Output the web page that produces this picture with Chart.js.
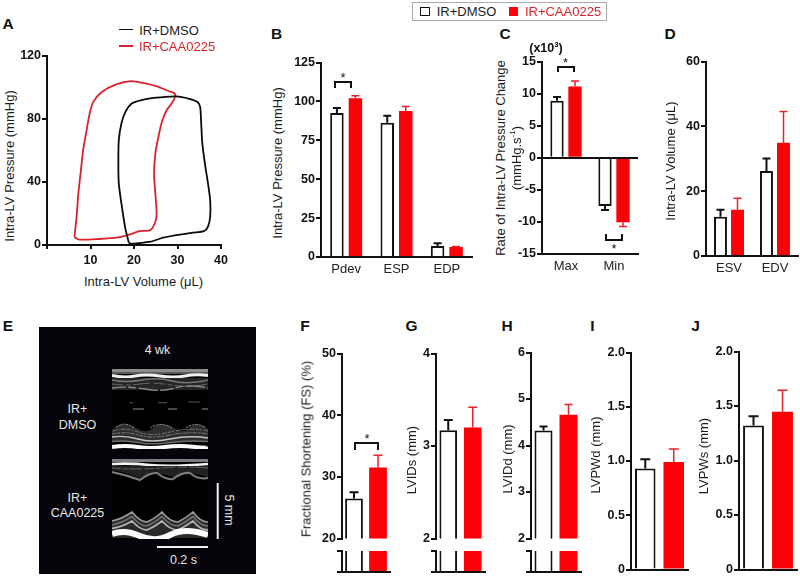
<!DOCTYPE html>
<html>
<head>
<meta charset="utf-8">
<title>Panels A-J</title>
<script src="https://cdn.jsdelivr.net/npm/chart.js@4"></script>
<style>
    html, body { margin: 0; padding: 0; background: #fff; }
    #page { position: relative; width: 800px; height: 577px; overflow: hidden; font-family: "Liberation Sans", Arial, sans-serif; color: #1c1c1c; }
    #page canvas { position: absolute; }
    #page svg { position: absolute; left: 0; top: 0; }
    .txt { position: absolute; white-space: nowrap; transform: translate(-50%, -50%); font-size: 12.5px; line-height: 1; }
    .txt sup { font-size: 0.62em; line-height: 0; }
    .letter { font-size: 15.5px; font-weight: bold; color: #111; }
    .brk { position: absolute; border: 2px solid #111; box-sizing: border-box; }
    .mark { position: absolute; box-sizing: border-box; }
</style>
</head>
<body>
<div id="page">
<svg width="800" height="577" viewBox="0 0 800 577">
    <defs>
        <filter id="soft"><feGaussianBlur stdDeviation="0.6"/></filter>
        <clipPath id="imgTop"><rect x="112" y="369" width="96" height="80"/></clipPath>
        <clipPath id="imgBottom"><rect x="112" y="459" width="96" height="80"/></clipPath>
    </defs>
    <rect x="39" y="327" width="217" height="247" fill="#04040a"/>
    <g clip-path="url(#imgTop)"><g filter="url(#soft)" fill="none">
        <rect x="112" y="369" width="96" height="80" fill="#050505"/>
        <rect x="112" y="369" width="96" height="3" fill="#8c8c8c"/>
        <rect x="112" y="372" width="96" height="2" fill="#5a5a5a"/>
        <path d="M112 375.5 Q124 378 135 376 T160 376 T185 376 T208 375.5" stroke="#efefef" stroke-width="3"/>
        <rect x="112" y="378" width="96" height="12" fill="#262626"/>
        <path d="M112 380 Q126 383 142 380 T172 381 T208 380" stroke="#777" stroke-width="1.4"/>
        <path d="M112 384 Q126 386 140 384 T170 385 T208 384" stroke="#666" stroke-dasharray="11 3 5 2 17 4"/>
        <path d="M112 388 Q128 386 145 389 T175 388 T208 388" stroke="#8a8a8a" stroke-width="1.3" stroke-dasharray="14 2 8 3 19 2"/>
        <path d="M130 402.7h3M158 402.7h9M188 402h12" stroke="#555"/>
        <path d="M133 409h11M168 409h9M202 409h6" stroke="#8c8c8c" stroke-width="1.2"/>
        <path d="M112 430 Q122 420 136 428 Q146 434 152 429 Q160 420 174 428 Q182 434 188 429 Q196 420 208 429 V442 H112 Z" fill="#2e2e2e"/>
        <path d="M116 427 Q126 421 134 428 M150 428 Q160 421 172 428 M186 428 Q196 421 206 428" stroke="#8c8c8c" stroke-dasharray="2 1 3 1"/>
        <path d="M113 431 Q126 427 138 432 T170 432 T208 431" stroke="#777" stroke-dasharray="3 1 2 2 5 1"/>
        <path d="M112 434 Q126 431 138 435 T170 435 T208 434" stroke="#666" stroke-width="1.3" stroke-dasharray="5 1 2 1"/>
        <path d="M112 437 Q125 435 138 439 T170 439 T208 438" stroke="#c4c4c4" stroke-width="1.4"/>
        <path d="M112 441.5 Q125 440 138 442.5 T170 442.5 T208 441.5" stroke="#6c6c6c" stroke-width="1.4"/>
        <path d="M112 447 Q125 445 138 447 T165 447 T195 447 T208 446" stroke="#fafafa" stroke-width="4"/>
    </g></g>
    <g clip-path="url(#imgBottom)"><g filter="url(#soft)" fill="none">
        <rect x="112" y="459" width="96" height="80" fill="#050505"/>
        <rect x="112" y="459" width="96" height="3" fill="#7c7c7c"/>
        <path d="M112 464 Q130 463 150 465 T208 464" stroke="#f2f2f2" stroke-width="2.6"/>
        <path d="M112 466 H208 V477 Q190 470 173 477 Q157 470 140 478 Q125 472 112 470 Z" fill="#242424"/>
        <path d="M112 468 Q135 470 160 468 T208 468" stroke="#606060" stroke-dasharray="9 2 5 1 13 3"/>
        <path d="M112 472 Q126 475 140 480 Q150 472 157 473 Q166 480 173 479 Q182 472 190 473 Q198 480 208 478" stroke="#7d7d7d" stroke-width="2"/>
        <path d="M112 521 Q122 519 132 512 Q140 522 147 522 Q156 518 162 512 Q170 522 178 522 Q186 518 193 512 Q200 522 208 522 V538 H112 Z" fill="#2c2c2c"/>
        <path d="M112 521 Q122 519 132 512 Q140 522 147 522 Q156 518 162 512 Q170 522 178 522 Q186 518 193 512 Q200 522 208 522" stroke="#9a9a9a" stroke-width="1.6"/>
        <path d="M112 525 Q122 523 132 516.5 Q140 526 147 526 Q156 522 162 516.5 Q170 526 178 526 Q186 522 193 516.5 Q200 526 208 526" stroke="#6f6f6f" stroke-width="1.6"/>
        <path d="M112 528.5 Q122 527 132 521 Q140 530 147 530 Q156 526 162 521 Q170 530 178 530 Q186 526 193 521 Q200 530 208 530" stroke="#b0b0b0" stroke-width="1.8"/>
        <path d="M112 534 Q125 529 140 536 T170 535 T208 535" stroke="#fbfbfb" stroke-width="6"/>
    </g></g>
    <rect x="216.7" y="483" width="2" height="56" fill="#f2f2f2"/>
    <rect x="157" y="546" width="51" height="2" fill="#f2f2f2"/>
</svg>
</div>
<script>
// Panel A: pressure-volume loops
const dmsoVolume = [18.8, 18.0, 17.1, 16.5, 16.4, 16.5, 17.1, 18.0, 19.4, 21.5, 24.5, 29.7, 32.7, 34.6, 35.2, 35.4, 35.7, 36.4, 37.0, 37.5, 37.5, 37.0, 36.1, 33.4, 29.7, 26.7, 23.8, 20.8, 19.3, 18.8];
const dmsoPressure = [1.5, 10.5, 26.3, 39, 51.6, 66.3, 76.9, 84.2, 89.5, 91.6, 93.1, 94.1, 92.6, 90.5, 87.4, 79, 64.2, 49.5, 39, 28.4, 17.9, 11.6, 8.8, 7.8, 6.3, 4.6, 2.1, 1.1, 0.8, 1.5];
const caaVolume = [6.3, 6.8, 7.2, 7.8, 8.3, 9.1, 9.8, 10.6, 12.6, 15.9, 19.3, 22.3, 25.3, 27.9, 29.4, 29.1, 27.5, 26.4, 25.6, 24.9, 24.6, 24.9, 25.2, 24.9, 23.8, 21.2, 19.3, 16.3, 11.8, 7.4, 6.5, 6.3];
const caaPressure = [5.3, 17.9, 32.6, 47.4, 60, 72.6, 83.2, 90.5, 96.9, 101.7, 103.8, 102.5, 100.4, 97.5, 95.8, 91.6, 85.3, 77.9, 68.4, 57.9, 45.3, 32.6, 20, 14.7, 9.5, 8.8, 6.9, 4.8, 3.8, 3.4, 4.6, 5.3];

// Panels B-D: grouped bars, error = SEM height
const pressureLabels = ['Pdev', 'ESP', 'EDP'];
const pressureDmso = [92.5, 86.3, 7.1];
const pressureDmsoErr = [3.2, 4.5, 1.7];
const pressureCaa = [102.1, 93.8, 6.4];
const pressureCaaErr = [1.5, 3.0, 0.4];

const rateLabels = ['Max', 'Min'];
const rateDmso = [8.9, -7.5];
const rateDmsoErr = [0.55, 0.63];
const rateCaa = [11.1, -10.05];
const rateCaaErr = [0.88, 0.65];

const volumeLabels = ['ESV', 'EDV'];
const volumeDmso = [12.1, 26.2];
const volumeDmsoErr = [2.2, 3.9];
const volumeCaa = [14.3, 34.9];
const volumeCaaErr = [3.5, 9.7];

// Panels F-J: one DMSO bar and one CAA bar each
const groupLabels = ['IR+DMSO', 'IR+CAA0225'];
const fsValues = [26.5, 31.5];
const fsErrors = [1.0, 2.0];
const lvidsValues = [3.17, 3.2];
const lvidsErrors = [0.11, 0.22];
const lviddValues = [4.32, 4.66];
const lviddErrors = [0.09, 0.22];
const lvpwdValues = [0.93, 0.99];
const lvpwdErrors = [0.087, 0.12];
const lvpwsValues = [1.32, 1.447];
const lvpwsErrors = [0.087, 0.197];

const BLACK = '#111';
const RED = '#fb0006';
const TICK_FONT = { family: '"Liberation Sans", Arial, sans-serif', size: 12.5, weight: 'bold' };
const CAT_FONT = { family: '"Liberation Sans", Arial, sans-serif', size: 13 };
const page = document.getElementById('page');

// Error bars are not built into Chart.js, so draw them from each dataset's err array
const errorBars = {
    id: 'errorBars',
    afterDatasetsDraw(chart, args, opts) {
        const { ctx, scales: { y } } = chart;
        chart.data.datasets.forEach((ds, i) => {
            if (!ds.err) return;
            chart.getDatasetMeta(i).data.forEach((bar, j) => {
                const value = ds.data[j];
                if (value === null) return;
                const tip = y.getPixelForValue(value + Math.sign(value) * ds.err[j]);
                ctx.save();
                ctx.strokeStyle = ds.errColor;
                ctx.lineWidth = ds.errWidth;
                ctx.beginPath();
                ctx.moveTo(bar.x, bar.y);
                ctx.lineTo(bar.x, tip);
                ctx.moveTo(bar.x - opts.cap / 2, tip);
                ctx.lineTo(bar.x + opts.cap / 2, tip);
                ctx.stroke();
                ctx.restore();
            });
        });
    }
};

// Put a chart on the page so that its plot area lands on the given rectangle
function placeChart(rect, config, space) {
    const gap = Object.assign({ left: 30, bottom: 24, top: 8, right: 6 }, space);
    const canvas = document.createElement('canvas');
    canvas.width = rect.x1 - rect.x0 + gap.left + gap.right;
    canvas.height = rect.y1 - rect.y0 + gap.top + gap.bottom;
    canvas.style.left = (rect.x0 - gap.left) + 'px';
    canvas.style.top = (rect.y0 - gap.top) + 'px';
    page.appendChild(canvas);

    config.options.responsive = false;
    config.options.animation = false;
    config.options.devicePixelRatio = 1;
    config.options.layout = { autoPadding: false, padding: { top: gap.top, right: gap.right, left: 0, bottom: 0 } };
    config.options.scales.x.afterFit = (s) => { s.height = gap.bottom; };
    config.options.scales.y.afterFit = (s) => { s.width = gap.left; };
    return new Chart(canvas, config);
}

function yAxis(min, max, step) {
    return {
        min: min,
        max: max,
        ticks: { stepSize: step, color: BLACK, font: TICK_FONT, padding: 1 },
        grid: { drawOnChartArea: false, color: BLACK, lineWidth: 2, tickLength: 5 },
        border: { color: BLACK, width: 2, z: 1 }
    };
}

function catAxis(hideLine) {
    return {
        grid: { display: false, drawTicks: false },
        ticks: { color: '#222', font: CAT_FONT, padding: 5, maxRotation: 0, autoSkip: false },
        border: { display: !hideLine, color: BLACK, width: 2, z: 1 }
    };
}

function barOpts(percentCat, percentBar, grouped) {
    return { categoryPercentage: percentCat, barPercentage: percentBar, grouped: grouped };
}

function dmsoSet(values, errors, opts) {
    return Object.assign({
        label: 'IR+DMSO', data: values, err: errors,
        backgroundColor: '#fff', borderColor: BLACK, borderWidth: 2,
        errColor: BLACK, errWidth: 2
    }, opts);
}

function caaSet(values, errors, opts) {
    return Object.assign({
        label: 'IR+CAA0225', data: values, err: errors,
        backgroundColor: RED, borderWidth: 0,
        errColor: '#e8222a', errWidth: 1.5
    }, opts);
}

function groupedChart(rect, labels, dmso, dmsoErr, caa, caaErr, y, cp, bp, cap) {
    const shape = barOpts(cp, bp, true);
    placeChart(rect, {
        type: 'bar',
        data: { labels: labels, datasets: [dmsoSet(dmso, dmsoErr, shape), caaSet(caa, caaErr, shape)] },
        options: {
            scales: { x: catAxis(false), y: y },
            plugins: { legend: { display: false }, tooltip: { enabled: false }, errorBars: { cap: cap } }
        },
        plugins: [errorBars]
    });
}

// Single comparison panel, stub is the lower piece when the axis is cut
function pairChart(rect, values, errors, y, bp, cap, stub) {
    const shape = barOpts(1, bp, false);
    const datasets = () => [
        dmsoSet([values[0], null], [errors[0], null], shape),
        caaSet([null, values[1]], [null, errors[1]], shape)
    ];
    const upperX = catAxis(!!stub);
    upperX.ticks.display = false;
    placeChart(rect, {
        type: 'bar',
        data: { labels: groupLabels, datasets: datasets() },
        options: {
            scales: { x: upperX, y: y },
            plugins: { legend: { display: false }, tooltip: { enabled: false }, errorBars: { cap: cap } }
        },
        plugins: [errorBars]
    }, { left: 30, bottom: 8 });
    if (!stub) return;

    // bars run off the top of a 0-1 scale here
    const lowerAxis = yAxis(0, 1, 1);
    lowerAxis.ticks.display = false;
    const lowerBars = datasets();
    lowerBars.forEach((ds) => { delete ds.err; });
    const lowerX = catAxis(false);
    lowerX.ticks.display = false;
    placeChart({ x0: rect.x0, x1: rect.x1, y0: stub.y0, y1: stub.y1 }, {
        type: 'bar',
        data: { labels: groupLabels, datasets: lowerBars },
        options: {
            scales: { x: lowerX, y: lowerAxis },
            plugins: { legend: { display: false }, tooltip: { enabled: false } }
        }
    }, { left: 30, bottom: 4, top: 3 });
}

// Panel A
placeChart({ x0: 47, x1: 226, y0: 55, y1: 245 }, {
    type: 'scatter',
    data: {
        datasets: [
            {
                label: 'IR+DMSO',
                data: dmsoVolume.map((v, i) => ({ x: v, y: dmsoPressure[i] })),
                showLine: true, borderColor: '#0a0a0a', borderWidth: 1.8, pointRadius: 0, tension: 0.25, clip: false
            },
            {
                label: 'IR+CAA0225',
                data: caaVolume.map((v, i) => ({ x: v, y: caaPressure[i] })),
                showLine: true, borderColor: '#d8232c', borderWidth: 1.8, pointRadius: 0, tension: 0.25, clip: false
            }
        ]
    },
    options: {
        scales: {
            x: {
                min: 0,
                max: 40,
                ticks: {
                    stepSize: 10, color: BLACK, font: TICK_FONT, padding: 4, maxRotation: 0,
                    callback: (v) => (v === 0 ? '' : v)
                },
                grid: { drawOnChartArea: false, color: BLACK, lineWidth: 2, tickLength: 4 },
                border: { color: BLACK, width: 2, z: 1 }
            },
            y: yAxis(0, 120, 40)
        },
        plugins: { legend: { display: false }, tooltip: { enabled: false } }
    }
});

// Panels B, C, D
groupedChart({ x0: 321, x1: 472, y0: 62, y1: 257 }, pressureLabels,
    pressureDmso, pressureDmsoErr, pressureCaa, pressureCaaErr,
    yAxis(0, 125, 25), 0.735, 0.73, 8);

const rateAxis = yAxis(-15, 15, 5);
rateAxis.grid = {
    drawOnChartArea: true, lineWidth: 2, tickLength: 5, tickColor: BLACK, z: 1,
    color: (c) => (c.tick.value === 0 ? BLACK : 'transparent')
};
groupedChart({ x0: 542, x1: 638, y0: 61, y1: 254 }, rateLabels,
    rateDmso, rateDmsoErr, rateCaa, rateCaaErr,
    rateAxis, 0.75, 0.74, 8);

groupedChart({ x0: 706, x1: 798, y0: 61, y1: 256 }, volumeLabels,
    volumeDmso, volumeDmsoErr, volumeCaa, volumeCaaErr,
    yAxis(0, 60, 20), 0.74, 0.76, 8);

// Panels F-J
pairChart({ x0: 342, x1: 390, y0: 353, y1: 539 }, fsValues, fsErrors, yAxis(20, 50, 10), 0.74, 9, { y0: 551, y1: 572 });
pairChart({ x0: 436, x1: 485, y0: 353, y1: 539 }, lvidsValues, lvidsErrors, yAxis(2, 4, 1), 0.72, 9, { y0: 551, y1: 572 });
pairChart({ x0: 531, x1: 581, y0: 352, y1: 539 }, lviddValues, lviddErrors, yAxis(2, 6, 1), 0.72, 8, { y0: 551, y1: 572 });
pairChart({ x0: 631, x1: 688, y0: 352, y1: 570 }, lvpwdValues, lvpwdErrors, yAxis(0, 2, 0.5), 0.72, 10);
pairChart({ x0: 739, x1: 797, y0: 351, y1: 570 }, lvpwsValues, lvpwsErrors, yAxis(0, 2, 0.5), 0.72, 10);

// Text that sits where the axis title option cannot put it
function addText(html, x, y, style, cls) {
    const el = document.createElement('div');
    el.className = cls || 'txt';
    el.innerHTML = html;
    el.style.left = x + 'px';
    el.style.top = y + 'px';
    if (style) el.style.cssText += style;
    page.appendChild(el);
}

function addBox(x, y, w, h, style, cls) {
    const el = document.createElement('div');
    el.className = cls || 'mark';
    el.style.cssText = `left:${x}px;top:${y}px;width:${w}px;height:${h}px;` + style;
    page.appendChild(el);
}

const ROT = 'font-size:13px;transform:translate(-50%,-50%) rotate(-90deg);';

[['A', 8, 24], ['B', 276.5, 33.5], ['C', 505, 33.5], ['D', 670, 33.5], ['E', 8, 326],
 ['F', 305, 325.5], ['G', 411.5, 325.5], ['H', 507, 325.5], ['I', 592.5, 325.5], ['J', 695.5, 325.5]]
    .forEach((l) => addText(l[0], l[1], l[2], '', 'txt letter'));

addText('Intra-LV Pressure (mmHg)', 8.5, 166, ROT);
addText('Intra-LV Volume (μL)', 143.5, 281, 'font-size:13px;');
addText('Intra-LV Pressure (mmHg)', 277, 163, ROT);
addText('Rate of Intra-LV Pressure Change', 499.5, 158, ROT);
addText('(mmHg.s<sup>-1</sup>)', 516, 157.5, ROT);
addText('Intra-LV Volume (μL)', 670, 161, ROT);
addText('Fractional Shortening (FS) (%)', 305.5, 449, ROT);
addText('LVIDs (mm)', 410.5, 460, ROT);
addText('LVIDd (mm)', 506.5, 459, ROT);
addText('LVPWd (mm)', 595, 455, ROT);
addText('LVPWs (mm)', 703, 456, ROT);
addText('(x10<sup>3</sup>)', 546, 48, 'font-weight:bold;color:#111;');

// Legend in panel A
addBox(119, 28.5, 14, 1.6, 'background:#111;');
addBox(119, 45, 14, 1.6, 'background:#d8232c;');
addText('IR+DMSO', 169, 29.5, 'font-size:13px;');
addText('IR+CAA0225', 177, 46, 'font-size:13px;color:#d8232c;');

// Shared legend
addBox(411.5, 2, 195, 18.5, 'border:1px solid #aaa;');
addBox(420, 6.5, 10, 9, 'border:1.6px solid #111;');
addBox(509, 7, 8.5, 8.5, `background:${RED};`);
addText('IR+DMSO', 466.5, 11, 'font-size:13px;');
addText('IR+CAA0225', 563, 11, 'font-size:13px;color:#d8232c;');

// Significance brackets
addBox(334, 81, 18, 7, 'border-bottom:none;', 'brk');
addText('*', 343, 77, 'font-size:13px;color:#111;');
addBox(557, 66, 18, 6, 'border-bottom:none;', 'brk');
addText('*', 565.5, 62, 'font-size:13px;color:#111;');
addBox(605, 234, 18, 7, 'border-top:none;', 'brk');
addText('*', 614, 248, 'font-size:13px;color:#111;');
addBox(354, 441.5, 25, 8, 'border-bottom:none;', 'brk');
addText('*', 367, 438, 'font-size:13px;color:#111;');

// Panel E labels
const WHITE = 'color:#e8e8e8;';
addText('4 wk', 157.5, 350, WHITE);
addText('IR+', 77.5, 408.5, WHITE);
addText('DMSO', 77.5, 424.5, WHITE);
addText('IR+', 77.5, 497.5, WHITE);
addText('CAA0225', 77.5, 512.5, WHITE);
addText('0.2 s', 183.5, 560, WHITE);
addText('5 mm', 228.5, 510, WHITE + 'transform:translate(-50%,-50%) rotate(90deg);');
</script>
</body>
</html>
